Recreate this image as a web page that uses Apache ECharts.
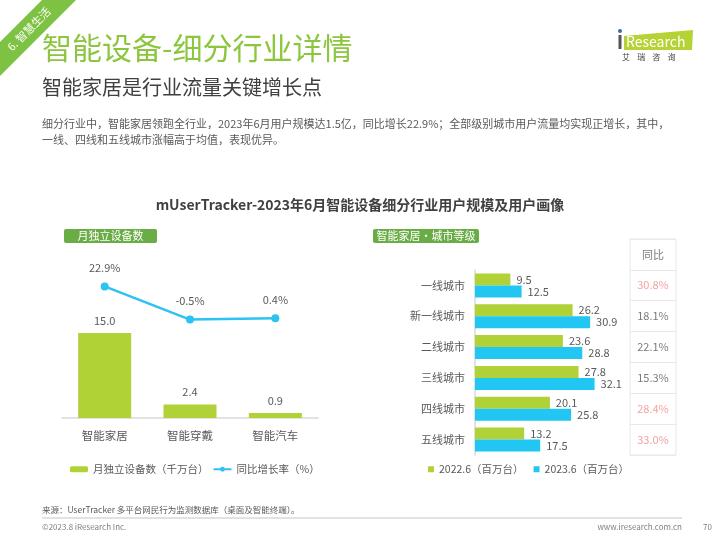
<!DOCTYPE html>
<html><head><meta charset="utf-8">
<script src="https://cdn.jsdelivr.net/npm/echarts@6/dist/echarts.min.js"></script>
<style>html,body{margin:0;padding:0;background:#fff}#c{width:720px;height:540px}</style>
</head><body><div id="c"></div>
<script>
const deviceCats = ['智能家居', '智能穿戴', '智能汽车'];
const deviceUsers = [15.0, 2.4, 0.9];
const deviceYoY = [22.9, -0.5, 0.4];
const cityCats = ['一线城市', '新一线城市', '二线城市', '三线城市', '四线城市', '五线城市'];
const city2022 = [9.5, 26.2, 23.6, 27.8, 20.1, 13.2];
const city2023 = [12.5, 30.9, 28.8, 32.1, 25.8, 17.5];
const cityYoY = [30.8, 18.1, 22.1, 15.3, 28.4, 33.0];
const tableHeader = '同比';
const legendLeft = ['月独立设备数（千万台）', '同比增长率（%）'];
const legendRight = ['2022.6（百万台）', '2023.6（百万台）'];

const FONT = '"Noto Sans CJK SC", "Microsoft YaHei", sans-serif';
const GREEN = '#b1d236';
const BLUE = '#22c6f3';
const LINEBLUE = '#2cc3f2';
const GRAY = '#595959';
const avgYoY = deviceYoY[0];

const chart = echarts.init(document.getElementById('c'));
const tableRows = [tableHeader].concat(cityCats);
const tableData = tableRows.map((r, i) => {
  if (i === 0) return { value: [0.5, i], label: { formatter: tableHeader, color: GRAY } };
  const v = cityYoY[i - 1];
  return { value: [0.5, i], label: { formatter: v.toFixed(1) + '%', color: v > avgYoY ? '#f08a8a' : GRAY } };
});

const option = {
  backgroundColor: '#fff',
  textStyle: { fontFamily: FONT },
  animation: false,
  grid: [
    { left: 62, top: 248, width: 256, height: 170 },
    { left: 475, top: 270, width: 149, height: 185 },
    { left: 630, top: 239, width: 46, height: 216, show: true, borderColor: '#e8e8e8', borderWidth: 1 }
  ],
  xAxis: [
    { type: 'category', gridIndex: 0, data: deviceCats,
      axisLine: { lineStyle: { color: '#d9d9d9', width: 1.5 } }, axisTick: { show: false },
      axisLabel: { color: GRAY, fontSize: 11.5, margin: 12, fontFamily: FONT } },
    { type: 'value', gridIndex: 1, min: 0, max: 40, show: false },
    { type: 'value', gridIndex: 2, min: 0, max: 1, show: false }
  ],
  yAxis: [
    { type: 'value', gridIndex: 0, min: 0, max: 30, show: false },
    { type: 'value', gridIndex: 0, min: -70, max: 50, show: false },
    { type: 'category', gridIndex: 1, data: cityCats, inverse: true,
      axisLine: { lineStyle: { color: '#d9d9d9', width: 1.5 } }, axisTick: { show: false },
      axisLabel: { color: GRAY, fontSize: 11, margin: 10, fontFamily: FONT } },
    { type: 'category', gridIndex: 2, data: tableRows, inverse: true,
      axisLine: { show: false }, axisTick: { show: false }, axisLabel: { show: false },
      splitLine: { show: true, lineStyle: { color: '#e8e8e8', width: 1 } } }
  ],
  legend: [
    { data: legendLeft, left: 70, top: 464, padding: 0, itemWidth: 18, itemHeight: 6, itemGap: 4,
      textStyle: { color: GRAY, fontSize: 10.5, fontFamily: FONT } },
    { data: legendRight, left: 428, top: 464, padding: 0, itemWidth: 6, itemHeight: 6, itemGap: 10, icon: 'rect',
      textStyle: { color: GRAY, fontSize: 10.5, fontFamily: FONT } }
  ],
  series: [
    { name: legendLeft[0], type: 'bar', xAxisIndex: 0, yAxisIndex: 0, data: deviceUsers, barWidth: 53,
      itemStyle: { color: GREEN }, legendIcon: 'rect',
      label: { show: true, position: 'top', distance: 7, color: GRAY, fontSize: 11, formatter: p => p.value.toFixed(1) } },
    { name: legendLeft[1], type: 'line', xAxisIndex: 0, yAxisIndex: 1, data: deviceYoY,
      symbol: 'circle', symbolSize: 8, lineStyle: { color: LINEBLUE, width: 2.5 }, itemStyle: { color: LINEBLUE },
      label: { show: true, position: 'top', distance: 9, color: GRAY, fontSize: 11, formatter: p => p.value.toFixed(1) + '%' } },
    { name: legendRight[0], type: 'bar', xAxisIndex: 1, yAxisIndex: 2, data: city2022, barWidth: 12, barGap: '0%',
      itemStyle: { color: GREEN },
      label: { show: true, position: 'right', distance: 6, color: GRAY, fontSize: 11, formatter: p => p.value.toFixed(1) } },
    { name: legendRight[1], type: 'bar', xAxisIndex: 1, yAxisIndex: 2, data: city2023, barWidth: 12, barGap: '0%',
      itemStyle: { color: BLUE },
      label: { show: true, position: 'right', distance: 6, color: GRAY, fontSize: 11, formatter: p => p.value.toFixed(1) } },
    { type: 'scatter', xAxisIndex: 2, yAxisIndex: 3, data: tableData, symbolSize: 1,
      itemStyle: { color: 'rgba(0,0,0,0)' }, silent: true,
      label: { show: true, position: 'inside', fontSize: 11, fontFamily: FONT } }
  ],
  graphic: [
    { type: 'polygon', shape: { points: [[42, 0], [76, 0], [0, 76], [0, 42]] }, style: { fill: '#7dc242' } },
    { type: 'text', x: 29, y: 29, rotation: Math.PI / 4,
      style: { text: '6. 智慧生活', fill: '#fff', font: '11px ' + FONT, textAlign: 'center', textVerticalAlign: 'middle' } },
    { type: 'text', x: 42, y: 48, style: { text: '智能设备-细分行业详情', fill: '#8cc63e', font: '30px ' + FONT, textVerticalAlign: 'middle' } },
    { type: 'text', x: 42, y: 87, style: { text: '智能家居是行业流量关键增长点', fill: '#404040', font: '20px ' + FONT, textVerticalAlign: 'middle' } },
    { type: 'text', x: 42, y: 124, style: { text: '细分行业中，智能家居领跑全行业，2023年6月用户规模达1.5亿，同比增长22.9%；全部级别城市用户流量均实现正增长，其中，', fill: GRAY, font: '11px ' + FONT, textVerticalAlign: 'middle' } },
    { type: 'text', x: 42, y: 140, style: { text: '一线、四线和五线城市涨幅高于均值，表现优异。', fill: GRAY, font: '11px ' + FONT, textVerticalAlign: 'middle' } },
    // logo
    { type: 'polygon', shape: { points: [[624, 36], [693, 30], [692, 50], [624, 50]] }, style: { fill: '#b5d334' } },
    { type: 'circle', shape: { cx: 620, cy: 31, r: 2 }, style: { fill: '#2f6fb6' } },
    { type: 'rect', shape: { x: 618.5, y: 35, width: 3, height: 14 }, style: { fill: '#555' } },
    { type: 'text', x: 626, y: 42, style: { text: 'Research', fill: '#fff', font: '14px ' + FONT, textVerticalAlign: 'middle' } },
    { type: 'text', x: 622, y: 57, style: { text: '艾    瑞    咨    询', fill: '#444', font: '8px ' + FONT, textVerticalAlign: 'middle' } },
    // chart title
    { type: 'text', x: 360, y: 205, style: { text: 'mUserTracker-2023年6月智能设备细分行业用户规模及用户画像', fill: '#404040', font: 'bold 14px ' + FONT, textAlign: 'center', textVerticalAlign: 'middle' } },
    { type: 'rect', shape: { x: 64, y: 229, width: 93, height: 14, r: 2 }, style: { fill: '#6aac45' } },
    { type: 'text', x: 110.5, y: 236, style: { text: '月独立设备数', fill: '#fff', font: '11px ' + FONT, textAlign: 'center', textVerticalAlign: 'middle' } },
    { type: 'rect', shape: { x: 373, y: 229, width: 106, height: 14, r: 2 }, style: { fill: '#6aac45' } },
    { type: 'text', x: 426, y: 236, style: { text: '智能家居·城市等级', fill: '#fff', font: '11px ' + FONT, textAlign: 'center', textVerticalAlign: 'middle' } },
    // footer
    { type: 'text', x: 42, y: 510, style: { text: '来源：UserTracker 多平台网民行为监测数据库（桌面及智能终端）。', fill: GRAY, font: '8.5px ' + FONT, textVerticalAlign: 'middle' } },
    { type: 'line', shape: { x1: 42, y1: 518, x2: 682, y2: 518 }, style: { stroke: '#d9d9d9', lineWidth: 1.5 } },
    { type: 'text', x: 42, y: 527, style: { text: '©2023.8 iResearch Inc.', fill: '#808080', font: '8px ' + FONT, textVerticalAlign: 'middle' } },
    { type: 'text', x: 682, y: 527, style: { text: 'www.iresearch.com.cn', fill: '#808080', font: '8px ' + FONT, textAlign: 'right', textVerticalAlign: 'middle' } },
    { type: 'text', x: 703, y: 527, style: { text: '70', fill: '#808080', font: '8px ' + FONT, textVerticalAlign: 'middle' } }
  ]
};
chart.setOption(option);
</script></body></html>
